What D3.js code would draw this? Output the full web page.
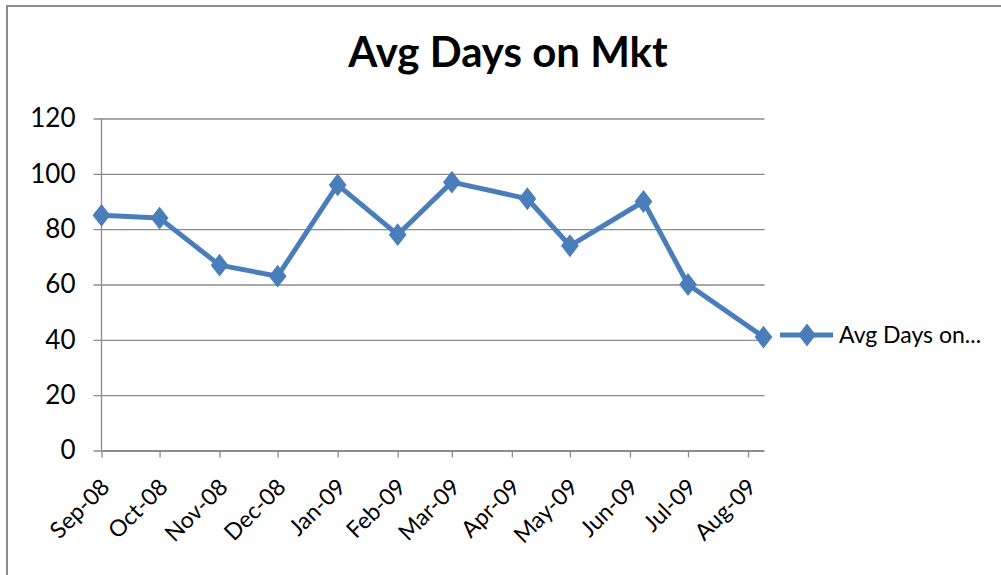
<!DOCTYPE html>
<html>
<head>
<meta charset="utf-8">
<script src="https://d3js.org/d3.v7.min.js"></script>
<style>
    body { margin: 0; background: #ffffff; }
    text { font-family: Lato, "Liberation Sans", sans-serif; fill: #000; }
</style>
</head>
<body>
<svg id="drawing_region"></svg>
<script>
// data
const dates = ["2008-09-01", "2008-10-01", "2008-11-01", "2008-12-01", "2009-01-01", "2009-02-01",
               "2009-03-01", "2009-04-09", "2009-05-01", "2009-06-08", "2009-07-01", "2009-08-09"];
const days = [85, 84, 67, 63, 96, 78, 97, 91, 74, 90, 60, 41];
const yticks = [0, 20, 40, 60, 80, 100, 120];
const title = "Avg Days on Mkt";
const series_name = "Avg Days on...";

const parse = d3.timeParse("%Y-%m-%d");
const data = dates.map( (d, i) => ({ date: parse(d), value: days[i] }) );

var config = {
    parent: '#drawing_region',
    width: 1001,
    height: 575,
    margin: {top:118.5, right:237, bottom:124.5, left:101.5}
};

class Linechart {

    constructor( config, data ) {
        this.config = config;
        this.data = data;
        this.init();
    }

    init() {
        let self = this;

        self.svg = d3.select( self.config.parent )
            .attr('width', self.config.width)
            .attr('height', self.config.height);

        // outer chart border
        self.svg.append('rect')
            .attr('x', 7).attr('y', 6)
            .attr('width', 1010).attr('height', 600)
            .attr('fill', 'none')
            .attr('stroke', '#8c8c8c')
            .attr('stroke-width', 2);

        self.chart = self.svg.append('g')
            .attr('transform', `translate(${self.config.margin.left}, ${self.config.margin.top})`);

        self.inner_width = self.config.width - self.config.margin.left - self.config.margin.right;
        self.inner_height = self.config.height - self.config.margin.top - self.config.margin.bottom;

        self.xscale = d3.scaleTime()
            .domain( d3.extent(self.data, d => d.date) )
            .range( [0, 662] );

        self.yscale = d3.scaleLinear()
            .domain( [0, 120] )
            .range( [self.inner_height, 0] );
    }

    render() {
        let self = this;
        const blue = '#4a7ebb';
        const grey = '#8c8c8c';

        // gridlines + y axis
        const yaxis = d3.axisLeft( self.yscale )
            .tickValues( yticks )
            .tickSize( -(self.xscale.range()[1] + 1) )
            .tickPadding( 26 );
        const yg = self.chart.append('g').call( yaxis );
        yg.select('.domain').remove();
        yg.selectAll('.tick line')
            .attr('x1', -8)
            .attr('stroke', grey)
            .attr('stroke-width', 1.3);
        yg.selectAll('.tick text')
            .style('font-size', '26px')
            .attr('fill', '#000');

        self.chart.append('line')
            .attr('x1', 0).attr('x2', 0)
            .attr('y1', 0).attr('y2', self.inner_height)
            .attr('stroke', grey).attr('stroke-width', 1.3);

        // x axis
        const xaxis = d3.axisBottom( self.xscale )
            .ticks( d3.timeMonth.every(1) )
            .tickFormat( d3.timeFormat("%b-%y") )
            .tickSize( 7 )
            .tickSizeOuter( 0 );
        const xg = self.chart.append('g')
            .attr('transform', `translate(0, ${self.inner_height})`)
            .call( xaxis );
        xg.select('.domain').attr('stroke', grey).attr('stroke-width', 2);
        xg.selectAll('.tick line').attr('stroke', grey).attr('stroke-width', 1.3);
        xg.selectAll('.tick text')
            .style('font-size', '23px')
            .attr('text-anchor', 'end')
            .attr('fill', '#000')
            .attr('y', 0).attr('dy', 0)
            .attr('transform', 'translate(9, 38) rotate(-45)');

        // series
        const line = d3.line()
            .x( d => self.xscale(d.date) )
            .y( d => self.yscale(d.value) );

        self.chart.append('path')
            .datum( self.data )
            .attr('d', line)
            .attr('fill', 'none')
            .attr('stroke', blue)
            .attr('stroke-width', 5)
            .attr('stroke-linejoin', 'round');

        const diamond = d3.symbol().type(d3.symbolDiamond).size(150);
        self.chart.selectAll('.marker')
            .data( self.data )
            .join('path')
            .attr('class', 'marker')
            .attr('d', diamond)
            .attr('fill', blue)
            .attr('transform', d => `translate(${self.xscale(d.date)}, ${self.yscale(d.value)}) scale(1.35, 1)`);

        // title
        self.svg.append('text')
            .attr('x', 508).attr('y', 67)
            .attr('text-anchor', 'middle')
            .style('font-size', '42px')
            .style('font-weight', 'bold')
            .text( title );

        // legend
        const lg = self.svg.append('g').attr('transform', 'translate(780, 335)');
        lg.append('line')
            .attr('x1', 0).attr('x2', 53)
            .attr('stroke', blue).attr('stroke-width', 5);
        lg.append('path')
            .attr('d', diamond)
            .attr('fill', blue)
            .attr('transform', 'translate(27, 0) scale(1.35, 1)');
        lg.append('text')
            .attr('x', 59).attr('y', 8)
            .style('font-size', '23px')
            .text( series_name );
    }
}

const linechart = new Linechart( config, data );
linechart.render();
</script>
</body>
</html>
